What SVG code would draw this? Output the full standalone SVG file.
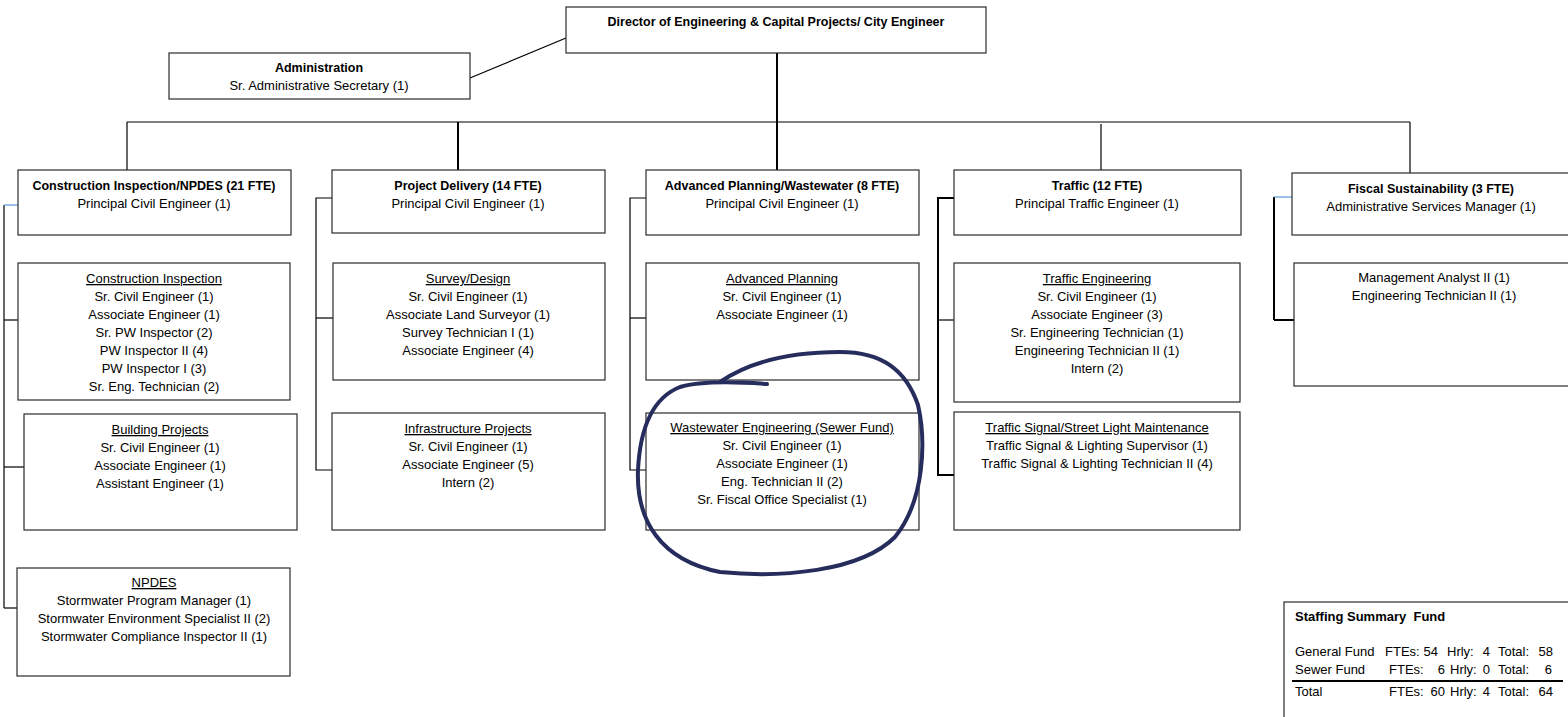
<svg xmlns="http://www.w3.org/2000/svg" width="1568" height="717" viewBox="0 0 1568 717">
<style>
  .box { fill: #ffffff; stroke: #2b2b2b; stroke-width: 1.2; }
  .t { font-family: "Liberation Sans", Arial, sans-serif; font-size: 13px; fill: #000; text-anchor: middle; }
  .b { font-weight: bold; font-size: 12.5px; }
  .u { text-decoration: underline; }
  .s { font-family: "Liberation Sans", Arial, sans-serif; font-size: 13px; fill: #000; white-space: pre; }
  .e { text-anchor: end; }
  .ln { stroke: #000; stroke-width: 1.2; fill: none; }
  .thick { stroke: #000; stroke-width: 2; fill: none; }
  .blue { stroke: #5b9bd5; stroke-width: 1.2; fill: none; }
</style>
<rect x="0" y="0" width="1568" height="717" fill="#ffffff"/>

<g id="connectors">
  <line class="ln" x1="470" y1="78" x2="566" y2="38"/>
  <line class="thick" x1="777" y1="53" x2="777" y2="170"/>
  <line class="ln" x1="127" y1="122" x2="1410" y2="122"/>
  <line class="ln" x1="127" y1="122" x2="127" y2="170"/>
  <line class="thick" x1="458" y1="122" x2="458" y2="170"/>
  <line class="ln" x1="1101" y1="124" x2="1101" y2="170"/>
  <line class="ln" x1="1410" y1="122" x2="1410" y2="173"/>
  <!-- column 1 -->
  <line class="ln" x1="4" y1="205" x2="4" y2="608"/>
  <line class="blue" x1="4" y1="205" x2="18" y2="205"/>
  <line class="ln" x1="4" y1="320" x2="18" y2="320"/>
  <line class="ln" x1="4" y1="467" x2="24" y2="467"/>
  <line class="ln" x1="4" y1="608" x2="17" y2="608"/>
  <!-- column 2 -->
  <polyline class="ln" points="332,198 316,198 316,470 332,470"/>
  <line class="ln" x1="316" y1="318" x2="333" y2="318"/>
  <!-- column 3 -->
  <polyline class="ln" points="646,198 630,198 630,470 646,470"/>
  <line class="ln" x1="630" y1="318" x2="646" y2="318"/>
  <!-- column 4 -->
  <polyline class="thick" points="954,198 938,198 938,475 954,475"/>
  <line class="ln" x1="938" y1="320" x2="954" y2="320"/>
  <!-- column 5 -->
  <line class="thick" x1="1274" y1="197" x2="1274" y2="320"/>
  <line class="blue" x1="1274" y1="197" x2="1292" y2="197"/>
  <line class="thick" x1="1274" y1="320" x2="1294" y2="320"/>
</g>

<g id="director">
  <rect class="box" x="566" y="7" width="420" height="46"/>
  <text class="t b" x="776" y="26">Director of Engineering &amp; Capital Projects/ City Engineer</text>
</g>
<g id="administration">
  <rect class="box" x="169" y="53" width="301" height="46"/>
  <text class="t b" x="319" y="72">Administration</text>
  <text class="t" x="319" y="90">Sr. Administrative Secretary (1)</text>
</g>

<g id="construction-npdes">
  <rect class="box" x="18" y="170" width="273" height="65"/>
  <text class="t b" x="154" y="190">Construction Inspection/NPDES (21 FTE)</text>
  <text class="t" x="154" y="208">Principal Civil Engineer (1)</text>
</g>
<g id="construction-inspection">
  <rect class="box" x="18" y="263" width="272" height="137"/>
  <text class="t u" x="154" y="283">Construction Inspection</text>
  <text class="t" x="154" y="301">Sr. Civil Engineer (1)</text>
  <text class="t" x="154" y="319">Associate Engineer (1)</text>
  <text class="t" x="154" y="337">Sr. PW Inspector (2)</text>
  <text class="t" x="154" y="355">PW Inspector II (4)</text>
  <text class="t" x="154" y="373">PW Inspector I (3)</text>
  <text class="t" x="154" y="391">Sr. Eng. Technician (2)</text>
</g>
<g id="building-projects">
  <rect class="box" x="24" y="414" width="273" height="116"/>
  <text class="t u" x="160" y="434">Building Projects</text>
  <text class="t" x="160" y="452">Sr. Civil Engineer (1)</text>
  <text class="t" x="160" y="470">Associate Engineer (1)</text>
  <text class="t" x="160" y="488">Assistant Engineer (1)</text>
</g>
<g id="npdes">
  <rect class="box" x="17" y="568" width="273" height="108"/>
  <text class="t u" x="154" y="587">NPDES</text>
  <text class="t" x="154" y="605">Stormwater Program Manager (1)</text>
  <text class="t" x="154" y="623">Stormwater Environment Specialist II (2)</text>
  <text class="t" x="154" y="641">Stormwater Compliance Inspector II (1)</text>
</g>

<g id="project-delivery">
  <rect class="box" x="332" y="170" width="273" height="63"/>
  <text class="t b" x="468" y="190">Project Delivery (14 FTE)</text>
  <text class="t" x="468" y="208">Principal Civil Engineer (1)</text>
</g>
<g id="survey-design">
  <rect class="box" x="333" y="263" width="272" height="117"/>
  <text class="t u" x="468" y="283">Survey/Design</text>
  <text class="t" x="468" y="301">Sr. Civil Engineer (1)</text>
  <text class="t" x="468" y="319">Associate Land Surveyor (1)</text>
  <text class="t" x="468" y="337">Survey Technician I (1)</text>
  <text class="t" x="468" y="355">Associate Engineer (4)</text>
</g>
<g id="infrastructure-projects">
  <rect class="box" x="332" y="413" width="273" height="117"/>
  <text class="t u" x="468" y="433">Infrastructure Projects</text>
  <text class="t" x="468" y="451">Sr. Civil Engineer (1)</text>
  <text class="t" x="468" y="469">Associate Engineer (5)</text>
  <text class="t" x="468" y="487">Intern (2)</text>
</g>

<g id="advanced-planning-wastewater">
  <rect class="box" x="646" y="170" width="273" height="65"/>
  <text class="t b" x="782" y="190">Advanced Planning/Wastewater (8 FTE)</text>
  <text class="t" x="782" y="208">Principal Civil Engineer (1)</text>
</g>
<g id="advanced-planning">
  <rect class="box" x="646" y="263" width="273" height="117"/>
  <text class="t u" x="782" y="283">Advanced Planning</text>
  <text class="t" x="782" y="301">Sr. Civil Engineer (1)</text>
  <text class="t" x="782" y="319">Associate Engineer (1)</text>
</g>
<g id="wastewater-engineering">
  <rect class="box" x="646" y="413" width="273" height="117"/>
  <text class="t u" x="782" y="432">Wastewater Engineering (Sewer Fund)</text>
  <text class="t" x="782" y="450">Sr. Civil Engineer (1)</text>
  <text class="t" x="782" y="468">Associate Engineer (1)</text>
  <text class="t" x="782" y="486">Eng. Technician II (2)</text>
  <text class="t" x="782" y="504">Sr. Fiscal Office Specialist (1)</text>
</g>

<g id="traffic">
  <rect class="box" x="954" y="170" width="287" height="65"/>
  <text class="t b" x="1097" y="190">Traffic (12 FTE)</text>
  <text class="t" x="1097" y="208">Principal Traffic Engineer (1)</text>
</g>
<g id="traffic-engineering">
  <rect class="box" x="954" y="263" width="286" height="139"/>
  <text class="t u" x="1097" y="283">Traffic Engineering</text>
  <text class="t" x="1097" y="301">Sr. Civil Engineer (1)</text>
  <text class="t" x="1097" y="319">Associate Engineer (3)</text>
  <text class="t" x="1097" y="337">Sr. Engineering Technician (1)</text>
  <text class="t" x="1097" y="355">Engineering Technician II (1)</text>
  <text class="t" x="1097" y="373">Intern (2)</text>
</g>
<g id="traffic-signal">
  <rect class="box" x="954" y="412" width="286" height="118"/>
  <text class="t u" x="1097" y="432">Traffic Signal/Street Light Maintenance</text>
  <text class="t" x="1097" y="450">Traffic Signal &amp; Lighting Supervisor (1)</text>
  <text class="t" x="1097" y="468">Traffic Signal &amp; Lighting Technician II (4)</text>
</g>

<g id="fiscal-sustainability">
  <rect class="box" x="1292" y="173" width="290" height="62"/>
  <text class="t b" x="1431" y="193">Fiscal Sustainability (3 FTE)</text>
  <text class="t" x="1431" y="211">Administrative Services Manager (1)</text>
</g>
<g id="fiscal-staff">
  <rect class="box" x="1294" y="263" width="290" height="123"/>
  <text class="t" x="1434" y="282">Management Analyst II (1)</text>
  <text class="t" x="1434" y="300">Engineering Technician II (1)</text>
</g>

<g id="staffing-summary">
  <rect class="box" x="1284" y="602" width="300" height="130"/>
  <text class="s" x="1295" y="621" font-weight="bold" font-size="12.5px">Staffing Summary  Fund</text>
  <text class="s" x="1295" y="656">General Fund</text>
  <text class="s" x="1385" y="656">FTEs:</text>
  <text class="s e" x="1438" y="656">54</text>
  <text class="s" x="1447" y="656">Hrly:</text>
  <text class="s e" x="1490" y="656">4</text>
  <text class="s" x="1498" y="656">Total:</text>
  <text class="s e" x="1553" y="656">58</text>
  <text class="s" x="1295" y="674">Sewer Fund</text>
  <text class="s" x="1389" y="674">FTEs:</text>
  <text class="s e" x="1445" y="674">6</text>
  <text class="s" x="1450" y="674">Hrly:</text>
  <text class="s e" x="1490" y="674">0</text>
  <text class="s" x="1498" y="674">Total:</text>
  <text class="s e" x="1552" y="674">6</text>
  <line x1="1292" y1="681" x2="1563" y2="681" stroke="#000" stroke-width="2"/>
  <text class="s" x="1295" y="696">Total</text>
  <text class="s" x="1389" y="696">FTEs:</text>
  <text class="s e" x="1445" y="696">60</text>
  <text class="s" x="1450" y="696">Hrly:</text>
  <text class="s e" x="1490" y="696">4</text>
  <text class="s" x="1498" y="696">Total:</text>
  <text class="s e" x="1553" y="696">64</text>
</g>

<path id="hand-circle" d="M 767 384 C 740 382, 700 381, 680 387 C 652 398, 640 430, 638 470 C 636 520, 660 560, 720 572 C 780 578, 860 572, 895 537 C 925 500, 926 440, 918 405 C 906 370, 882 352, 840 352 C 792 352, 752 360, 720 382" fill="none" stroke="#262c5c" stroke-width="4" stroke-linecap="round" stroke-linejoin="round"/>
</svg>
